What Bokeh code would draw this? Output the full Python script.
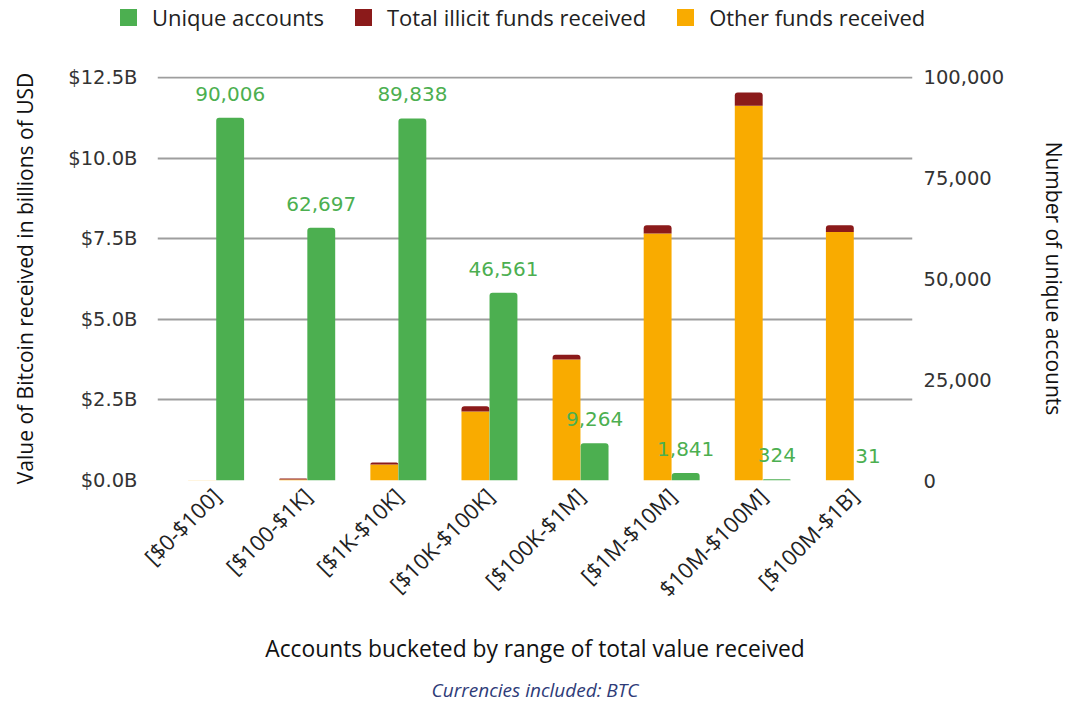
import math
from bokeh.plotting import figure
from bokeh.layouts import column
from bokeh.models import (ColumnDataSource, Range1d, LinearAxis, FixedTicker, PrintfTickFormatter,
                          NumeralTickFormatter, Title, FactorRange, Div)
from bokeh.transform import dodge, stack
from bokeh.core.properties import value
from bokeh.embed import file_html
from bokeh.resources import INLINE

# ---- data ----
categories = ["[$0-$100]", "[$100-$1K]", "[$1K-$10K]", "[$10K-$100K]", "[$100K-$1M]",
              "[$1M-$10M]", "$10M-$100M]", "[$100M-$1B]"]
other_funds_b = [0.01, 0.03, 0.50, 2.14, 3.75, 7.66, 11.62, 7.71]
illicit_funds_b = [0.0, 0.03, 0.06, 0.16, 0.15, 0.26, 0.41, 0.21]
unique_accounts = [90006, 62697, 89838, 46561, 9264, 1841, 324, 31]
left_ticks = [0, 2.5, 5, 7.5, 10, 12.5]
right_ticks = [0, 25000, 50000, 75000, 100000]
legend_labels = ["Unique accounts", "Total illicit funds received", "Other funds received"]

GREEN = "#4caf50"
RED = "#8b1a1a"
ORANGE = "#f9ab00"
FONT = "Open Sans"
NUMFONT = "DejaVu Sans"
TXT = "#222222"

W_TOTAL = 1066
LEG_H = 36
FW, FH = 755, 404
BL, BR, BT, BB = 157, 154, 40, 224

# ---------------- legend strip ----------------
items_html = "".join(
    f'<div style="display:flex;align-items:center;margin-right:31px;">'
    f'<span style="display:inline-block;width:17px;height:17px;background:{c};'
    f'margin-right:15px;"></span><span>{t}</span></div>'
    for t, c in zip(legend_labels, (GREEN, RED, ORANGE)))
legend_div = Div(
    text=(f'<div style="display:flex;align-items:center;height:{LEG_H}px;padding-left:120px;'
          f'font-family:\'{FONT}\';font-size:22px;color:{TXT};white-space:nowrap;">'
          f'{items_html}</div>'),
    width=W_TOTAL, height=LEG_H, margin=0)

# ---------------- main chart ----------------
src = ColumnDataSource(dict(
    cat=categories, other=other_funds_b, illicit=illicit_funds_b,
    accounts=unique_accounts, acc_label=[f"{v:,}" for v in unique_accounts]))

x_range = FactorRange(factors=categories, range_padding=0.1435, range_padding_units="absolute")
p = figure(x_range=x_range, y_range=Range1d(0, 12.53), frame_width=FW, frame_height=FH,
           min_border_left=BL, min_border_right=BR, min_border_top=BT, min_border_bottom=BB,
           output_backend="svg", toolbar_location=None)
p.extra_y_ranges = {"acc": Range1d(0, 100240)}
p.outline_line_color = None
p.background_fill_color = "white"

xo = dodge("cat", -0.154, range=p.x_range)
xg = dodge("cat", 0.154, range=p.x_range)
W = 0.306

p.vbar(x=xo, bottom=0, top=stack("other"), width=W, source=src,
       fill_color=ORANGE, line_color=None)
p.vbar(x=xo, bottom=stack("other"), top=stack("other", "illicit"), width=W, source=src,
       fill_color=RED, line_color=None, border_radius=(3, 3, 0, 0))
p.vbar(x=xg, bottom=0, top="accounts", width=W, source=src, y_range_name="acc",
       fill_color=GREEN, line_color=None, border_radius=(3, 3, 0, 0))

p.text(x=xg, y="accounts", text="acc_label", source=src, y_range_name="acc",
       text_align="center", text_baseline="bottom", y_offset=-17,
       text_color=GREEN, text_font=value(NUMFONT), text_font_size="20px")

# grid
p.xgrid.visible = False
p.ygrid.ticker = FixedTicker(ticks=left_ticks)
p.ygrid.grid_line_color = "#9e9e9e"
p.ygrid.grid_line_width = 2

# left axis
ya = p.yaxis[0]
ya.ticker = FixedTicker(ticks=left_ticks)
ya.formatter = PrintfTickFormatter(format="$%.1fB")
ya.axis_label = "Value of Bitcoin received in billions of USD"
ya.axis_line_color = None
ya.major_tick_line_color = None
ya.major_tick_out = 0
ya.minor_tick_line_color = None
ya.major_label_standoff = 20
ya.major_label_text_font = NUMFONT
ya.major_label_text_font_size = "19.5px"
ya.major_label_text_color = "#333333"
ya.axis_label_standoff = 26
ya.axis_label_text_font = FONT
ya.axis_label_text_font_size = "21px"
ya.axis_label_text_font_style = "normal"
ya.axis_label_text_color = "#111111"

# right axis
ra = LinearAxis(y_range_name="acc", ticker=FixedTicker(ticks=right_ticks),
                formatter=NumeralTickFormatter(format="0,0"),
                axis_label="Number of unique accounts")
ra.axis_line_color = None
ra.major_tick_line_color = None
ra.major_tick_out = 0
ra.minor_tick_line_color = None
ra.major_label_standoff = 11
ra.major_label_text_font = NUMFONT
ra.major_label_text_font_size = "19.5px"
ra.major_label_text_color = "#333333"
ra.axis_label_standoff = 33
ra.axis_label_text_font = FONT
ra.axis_label_text_font_size = "21px"
ra.axis_label_text_font_style = "normal"
ra.axis_label_text_color = "#111111"
p.add_layout(ra, "right")

# x axis
xa = p.xaxis[0]
xa.major_label_orientation = math.pi / 4
xa.axis_line_color = None
xa.major_tick_line_color = None
xa.major_tick_out = 0
xa.minor_tick_line_color = None
xa.major_label_standoff = 11
xa.major_label_text_font = FONT
xa.major_label_text_font_size = "22px"
xa.major_label_text_color = TXT
xa.axis_label = "Accounts bucketed by range of total value received"
xa.axis_label_standoff = 17
xa.axis_label_text_font = FONT
xa.axis_label_text_font_size = "22.8px"
xa.axis_label_text_font_style = "normal"
xa.axis_label_text_color = "#111111"

# caption
p.add_layout(Title(text="Currencies included: BTC", align="center", standoff=14,
                   text_font=FONT, text_font_size="19px", text_font_style="italic",
                   text_color="#2e3b78"), "below")

layout = column(legend_div, p, spacing=0)
open("out.html", "w").write(file_html(layout, INLINE))
